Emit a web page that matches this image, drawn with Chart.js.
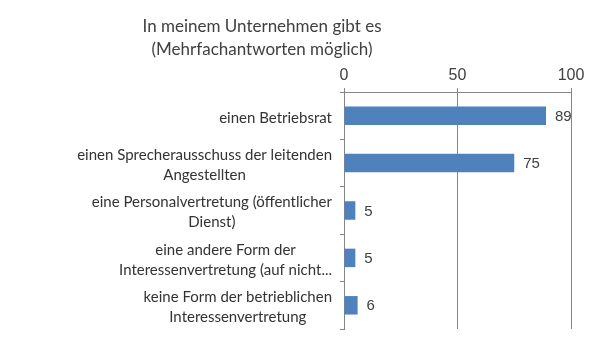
<!DOCTYPE html>
<html>
<head>
<meta charset="utf-8">
<script src="https://cdn.jsdelivr.net/npm/chart.js@4"></script>
<style>
    html, body { margin: 0; padding: 0; background: #fff; }
    #wrap { position: relative; width: 600px; height: 346px; }
    #titel {
        position: absolute; left: 0; top: 14px; width: 524px;
        text-align: center; font: 17px Lato, sans-serif; line-height: 23px; color: #404040;
    }
    canvas { display: block; }
</style>
</head>
<body>
<div id="wrap">
    <div id="titel">In meinem Unternehmen gibt es<br>(Mehrfachantworten möglich)</div>
    <canvas id="chart" width="600" height="346"></canvas>
</div>
<script>
// Daten
const kategorien = [
    ['einen Betriebsrat'],
    ['einen Sprecherausschuss der leitenden', 'Angestellten'],
    ['eine Personalvertretung (öffentlicher', 'Dienst)'],
    ['eine andere Form der', 'Interessenvertretung (auf nicht...'],
    ['keine Form der betrieblichen', 'Interessenvertretung']
];
const werte = [89, 75, 5, 5, 6];
const achsenTicks = [0, 50, 100];

// Beschriftungen: Kategorien (Zeilen zentriert, Block rechtsbündig) und Werte
const beschriftung = {
    id: 'beschriftung',
    afterDatasetsDraw(chart) {
        const ctx = chart.ctx;
        const y = chart.scales.y;
        const meta = chart.getDatasetMeta(0);
        ctx.save();
        ctx.fillStyle = '#404040';
        ctx.textBaseline = 'middle';

        ctx.font = '15px "Liberation Sans", Arial, sans-serif';
        ctx.textAlign = 'left';
        meta.data.forEach((bar, i) => ctx.fillText(werte[i], bar.x + 9, bar.y + 1));

        ctx.font = '15px Lato, sans-serif';
        ctx.fillStyle = '#333';
        ctx.textAlign = 'center';
        const rechts = y.right - 12;
        kategorien.forEach((zeilen, i) => {
            const breite = Math.max(...zeilen.map(z => ctx.measureText(z).width));
            const mitte = rechts - breite / 2;
            const yc = y.getPixelForValue(i);
            zeilen.forEach((z, j) => {
                ctx.fillText(z, mitte, yc + 2 + (j - (zeilen.length - 1) / 2) * 20);
            });
        });
        ctx.restore();
    }
};

new Chart(document.getElementById('chart'), {
    type: 'bar',
    data: {
        labels: kategorien,
        datasets: [{
            data: werte,
            backgroundColor: '#4F81BD',
            borderWidth: 0,
            barPercentage: 0.39,
            categoryPercentage: 1
        }]
    },
    options: {
        indexAxis: 'y',
        responsive: false,
        animation: false,
        layout: { padding: { left: 0, right: 29, top: 0, bottom: 17 } },
        plugins: {
            legend: { display: false },
            title: { display: false },
            tooltip: { enabled: false }
        },
        scales: {
            x: {
                position: 'top',
                min: 0,
                max: 100,
                afterBuildTicks: s => { s.ticks = achsenTicks.map(v => ({ value: v })); },
                afterFit: s => { s.height = 92; },
                grid: { color: '#868686', tickLength: 4 },
                border: { color: '#868686' },
                ticks: {
                    color: '#404040',
                    padding: 3,
                    font: { family: '"Liberation Sans Narrow", "Arial Narrow", sans-serif', size: 16 }
                }
            },
            y: {
                afterFit: s => { s.width = 344; },
                grid: { offset: true, drawOnChartArea: false, color: '#868686', tickLength: 4 },
                border: { color: '#868686' },
                ticks: { display: false }
            }
        }
    },
    plugins: [beschriftung]
});
</script>
</body>
</html>
